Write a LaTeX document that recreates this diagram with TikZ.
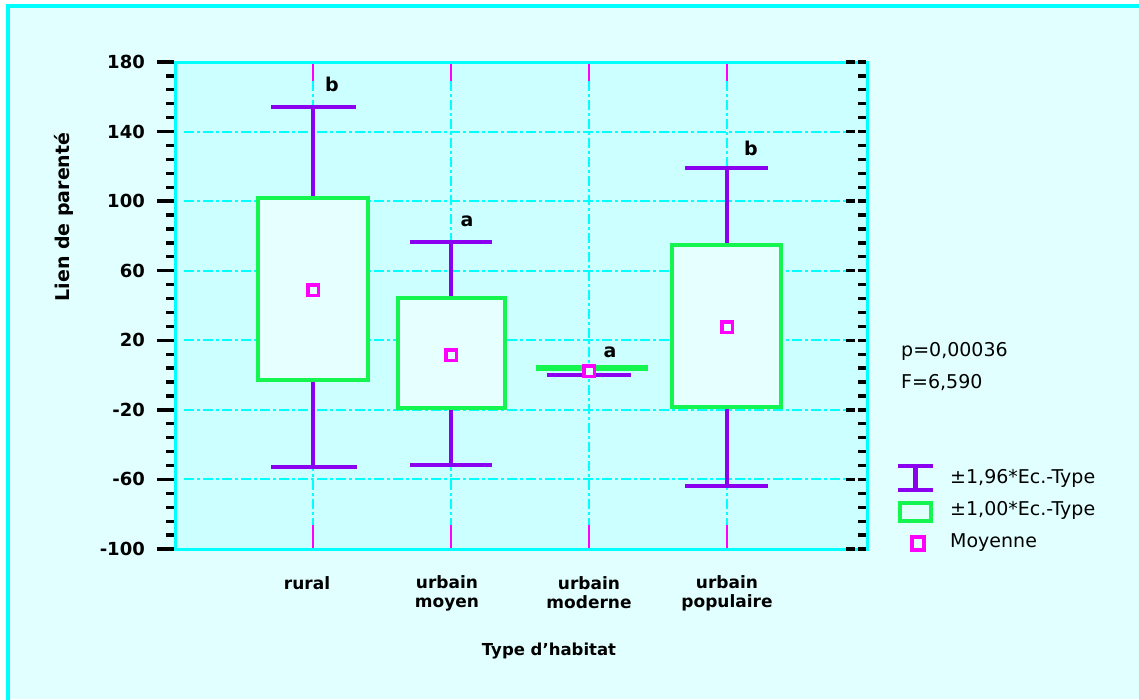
\documentclass[tikz,border=0pt]{standalone}
\usepackage{fontspec}
\setmainfont{DejaVu Sans}
\definecolor{outerbg}{RGB}{226,255,255}
\definecolor{plotbg}{RGB}{204,255,255}
\definecolor{boxfill}{RGB}{230,255,255}
\definecolor{boxgreen}{RGB}{20,245,80}
\definecolor{whpurple}{RGB}{140,0,240}
\definecolor{meanmag}{RGB}{255,0,255}
\definecolor{axcyan}{RGB}{0,255,255}
\begin{document}
\begin{tikzpicture}[x=1pt,y=-1pt,
  declare function={Y(\v)=62+(180-\v)*1.739286;},
  tickmk/.style={line width=3.3pt,black},
  gridln/.style={axcyan,line width=2pt,dash pattern=on 10pt off 3pt on 3pt off 3pt},
  magtick/.style={meanmag,line width=2pt},
  sdbox/.style={draw=boxgreen,fill=boxfill,line width=4.5pt},
  whisk/.style={draw=whpurple,line width=4.8pt},
  meanmk/.style={rectangle,draw=meanmag,fill=boxfill,line width=3.8pt,minimum size=10.8pt,inner sep=0pt},
  ticklbl/.style={anchor=east,inner sep=0pt,font=\fontsize{18}{19}\selectfont\bfseries},
  catlbl/.style={align=center,inner sep=0pt,font=\fontsize{17}{19}\selectfont\bfseries},
  sigl/.style={inner sep=0pt,font=\fontsize{19}{20}\selectfont\bfseries},
  legtxt/.style={anchor=west,inner sep=0pt,font=\fontsize{19}{20}\selectfont}
]
\useasboundingbox (0,0) rectangle (1139,699);
\fill[white] (0,0) rectangle (1139,699);
% outer frame
\fill[outerbg] (8,6) rectangle (1139,699);
\draw[axcyan,line width=4pt] (8,703) -- (8,6) -- (1143,6);
% plot area
\fill[plotbg] (175,62) rectangle (867,549);
\foreach \v in {140,100,60,20,-20,-60}
  \draw[gridln] (184,{Y(\v)}) -- (846,{Y(\v)});
\foreach \x in {313,451,589,727}{
  \draw[gridln] (\x,81) -- (\x,525);
  \draw[magtick] (\x,62) -- (\x,81);
  \draw[magtick] (\x,525) -- (\x,549);
}
\draw[axcyan,line width=3pt] (175,62) rectangle (867,549);
% ticks
\foreach \k in {0,...,35}{
  \pgfmathtruncatemacro\m{mod(\k,5)}
  \pgfmathsetmacro\yy{549-\k*13.9143}
  \ifnum\m=0
    \draw[tickmk] (157,\yy) -- (174,\yy);
    \draw[tickmk] (846,\yy) -- (855,\yy) (858,\yy) -- (866,\yy);
  \else
    \draw[tickmk] (166,\yy) -- (174,\yy);
    \draw[tickmk] (858,\yy) -- (866,\yy);
  \fi
}
\foreach \v in {180,140,...,-100}
  \node[ticklbl] (t\v) at (145,{Y(\v)}) {\v};
% rural
\draw[whisk] (313,198) -- (313,107);
\draw[whisk] (271,107) -- (356,107);
\draw[whisk] (313,380) -- (313,467);
\draw[whisk] (271,467) -- (357,467);
\draw[sdbox] (258,198) rectangle (368,380);
\node[meanmk] (m1) at (313,290) {};
% urbain moyen
\draw[whisk] (451,298) -- (451,242);
\draw[whisk] (410,242) -- (492,242);
\draw[whisk] (451,408) -- (451,465);
\draw[whisk] (410,465) -- (492,465);
\draw[sdbox] (398,298) rectangle (505,408);
\node[meanmk] (m2) at (451,355) {};
% urbain moderne
\draw[whisk] (547,375) -- (631,375);
\draw[sdbox] (538,367) rectangle (646,369);
\node[meanmk] (m3) at (589,371) {};
% urbain populaire
\draw[whisk] (727,245) -- (727,168);
\draw[whisk] (685,168) -- (768,168);
\draw[whisk] (727,407) -- (727,486);
\draw[whisk] (685,486) -- (768,486);
\draw[sdbox] (672,245) rectangle (781,407);
\node[meanmk] (m4) at (727,327) {};
% significance letters
\node[sigl] (s1) at (332,84) {b};
\node[sigl] (s2) at (467,221) {a};
\node[sigl] (s3) at (610,352) {a};
\node[sigl] (s4) at (751,148) {b};
% axis labels
\node[catlbl] (c1) at (307,583) {rural};
\node[catlbl] (c2) at (447,593) {urbain\\moyen};
\node[catlbl] (c3) at (589,593) {urbain\\moderne};
\node[catlbl] (c4) at (727,593) {urbain\\populaire};
\node[inner sep=0pt,font=\fontsize{16.5}{18}\selectfont\bfseries] (xt) at (549,651) {Type d’habitat};
\node[inner sep=0pt,rotate=90,font=\fontsize{19}{20}\selectfont\bfseries] (yt) at (64,217) {Lien de parenté};
% statistics
\node[legtxt] (pv) at (901,351) {p=0,00036};
\node[legtxt] (fv) at (901,383) {F=6,590};
% legend
\draw[whisk,line width=4.5pt] (898,466) -- (933,466) (898,490) -- (933,490) (915.5,466) -- (915.5,490);
\node[legtxt] (l1) at (950,478) {±1,96*Ec.-Type};
\draw[draw=boxgreen,line width=3.8pt] (900,503) rectangle (931,521);
\node[legtxt] (l2) at (950,510) {±1,00*Ec.-Type};
\draw[draw=meanmag,line width=3.2pt] (912,537) rectangle (924,550);
\node[legtxt] (l3) at (950,543) {Moyenne};
\end{tikzpicture}
\end{document}
